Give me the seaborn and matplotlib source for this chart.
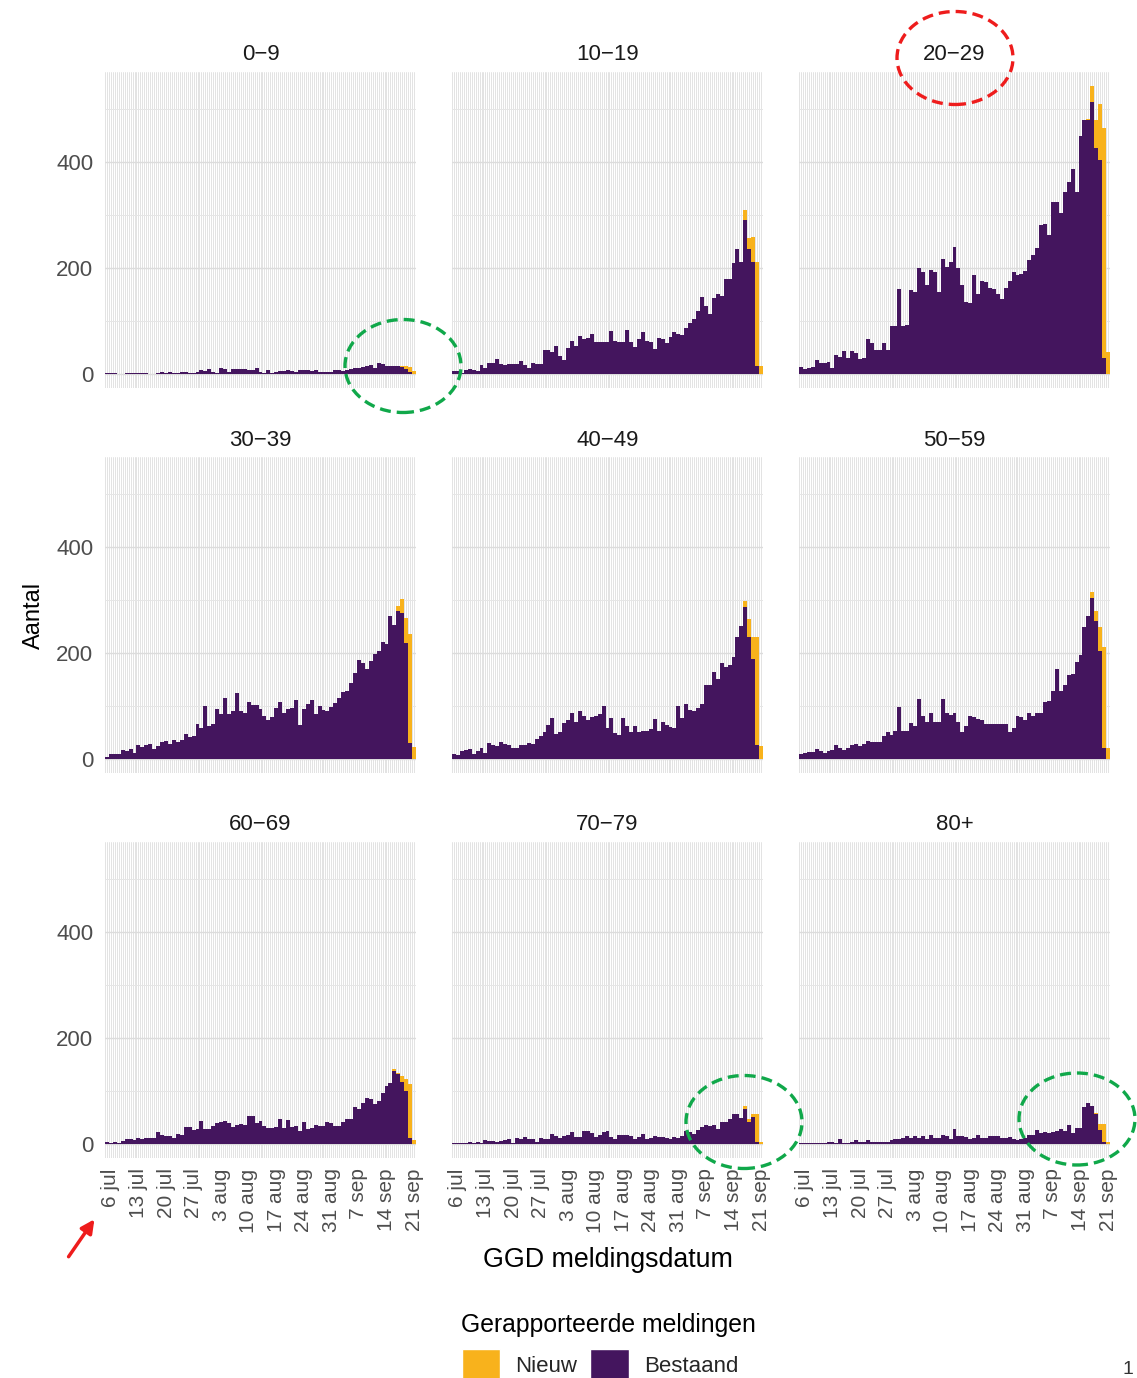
import matplotlib
matplotlib.use("Agg")
import numpy as np
import pandas as pd
import matplotlib.pyplot as plt
import matplotlib.dates as mdates
from matplotlib.patches import Ellipse, FancyArrowPatch, Patch
from matplotlib.ticker import FixedLocator, MultipleLocator
import seaborn as sns

# ---------------------------------------------------------------- data
dates = pd.date_range("2020-07-05", "2020-09-21", freq="D")
nieuw_dates = dates[-6:]

age_groups = ["0−9", "10−19", "20−29", "30−39", "40−49",
              "50−59", "60−69", "70−79", "80+"]

bestaand_0_9 = [2, 2, 2, 0, 0, 2, 2, 2, 2, 1,
                1, 0, 0, 2, 3, 2, 4, 2, 2, 3,
                3, 2, 2, 3, 6, 5, 8, 4, 2, 10,
                8, 3, 9, 9, 8, 9, 7, 7, 11, 4,
                2, 6, 2, 4, 5, 5, 6, 5, 4, 6,
                7, 6, 5, 6, 3, 3, 4, 4, 6, 6,
                5, 7, 9, 10, 11, 13, 14, 17, 11, 20,
                18, 15, 15, 14, 14, 12, 9, 3, 0]
nieuw_0_9 = [0, 0, 3, 6, 9, 5]

bestaand_10_19 = [5, 5, 2, 7, 9, 6, 5, 16, 11, 20,
                  20, 27, 19, 16, 18, 18, 18, 24, 16, 11,
                  21, 19, 19, 44, 44, 41, 52, 33, 25, 49,
                  62, 53, 71, 66, 68, 75, 60, 60, 60, 60,
                  81, 61, 60, 60, 83, 60, 51, 66, 78, 62,
                  60, 46, 68, 65, 57, 70, 78, 75, 73, 87,
                  95, 104, 119, 144, 128, 112, 142, 150, 146, 179,
                  178, 208, 236, 210, 290, 235, 210, 15, 0]
nieuw_10_19 = [0, 18, 20, 48, 195, 15]

bestaand_20_29 = [13, 9, 11, 13, 26, 20, 20, 22, 11, 35,
                  31, 43, 30, 42, 39, 28, 30, 66, 57, 45,
                  45, 58, 45, 89, 89, 160, 89, 91, 157, 154,
                  199, 192, 167, 195, 192, 154, 217, 201, 210, 238,
                  199, 167, 135, 133, 186, 151, 174, 173, 162, 159,
                  150, 140, 162, 174, 192, 186, 188, 194, 214, 223,
                  237, 280, 283, 261, 324, 323, 303, 343, 362, 387,
                  343, 448, 478, 478, 513, 425, 404, 30, 0]
nieuw_20_29 = [3, 29, 53, 104, 434, 40]

bestaand_30_39 = [4, 8, 9, 9, 16, 14, 19, 11, 25, 22,
                  26, 28, 18, 24, 32, 33, 27, 36, 32, 36,
                  46, 40, 42, 66, 58, 99, 62, 65, 93, 85,
                  115, 84, 90, 123, 89, 87, 106, 101, 101, 93,
                  81, 73, 79, 96, 106, 87, 93, 96, 110, 63,
                  93, 104, 111, 84, 99, 91, 89, 98, 105, 115,
                  126, 128, 143, 162, 186, 181, 169, 184, 197, 203,
                  221, 217, 270, 252, 279, 275, 219, 30, 0]
nieuw_30_39 = [0, 9, 27, 47, 206, 22]

bestaand_40_49 = [9, 6, 15, 16, 18, 9, 15, 20, 10, 29,
                  26, 23, 31, 28, 26, 20, 20, 26, 25, 30,
                  28, 37, 42, 50, 64, 76, 47, 50, 67, 72,
                  86, 70, 89, 81, 73, 78, 81, 84, 100, 57,
                  76, 48, 45, 76, 62, 50, 62, 50, 53, 52,
                  55, 74, 53, 69, 64, 59, 57, 100, 76, 103,
                  91, 89, 95, 103, 138, 138, 164, 150, 180, 172,
                  177, 191, 230, 251, 286, 229, 188, 25, 0]
nieuw_40_49 = [0, 12, 35, 41, 204, 23]

bestaand_50_59 = [9, 11, 12, 13, 18, 15, 11, 15, 16, 25,
                  21, 16, 20, 26, 28, 23, 28, 33, 31, 32,
                  32, 42, 50, 45, 53, 97, 53, 53, 67, 62,
                  113, 81, 70, 87, 70, 70, 113, 87, 83, 87,
                  69, 50, 62, 81, 79, 74, 72, 65, 65, 65,
                  65, 65, 65, 51, 57, 81, 78, 72, 86, 81,
                  87, 87, 106, 108, 127, 169, 127, 138, 157, 160,
                  182, 196, 248, 270, 304, 260, 204, 21, 0]
nieuw_50_59 = [0, 10, 19, 44, 189, 21]

bestaand_60_69 = [4, 1, 3, 1, 5, 8, 9, 6, 11, 9,
                  11, 11, 11, 22, 17, 14, 14, 11, 18, 16,
                  31, 31, 25, 28, 42, 27, 27, 34, 38, 40,
                  42, 39, 31, 35, 37, 36, 53, 52, 38, 42,
                  34, 30, 30, 31, 47, 29, 44, 31, 33, 23,
                  41, 28, 30, 36, 33, 34, 41, 38, 34, 34,
                  41, 46, 47, 69, 65, 77, 87, 84, 74, 80,
                  96, 109, 115, 137, 131, 116, 99, 10, 0]
nieuw_60_69 = [4, 3, 12, 23, 103, 6]

bestaand_70_79 = [1, 1, 1, 1, 4, 1, 4, 1, 6, 5,
                  5, 4, 5, 6, 9, 1, 11, 8, 13, 8,
                  8, 4, 11, 8, 9, 19, 14, 11, 15, 17,
                  22, 13, 13, 23, 23, 20, 13, 17, 22, 23,
                  12, 8, 16, 16, 17, 14, 9, 12, 18, 9,
                  11, 14, 13, 13, 11, 8, 13, 11, 15, 23,
                  22, 18, 25, 31, 36, 33, 36, 27, 41, 41,
                  47, 56, 55, 49, 65, 41, 51, 4, 0]
nieuw_70_79 = [0, 6, 5, 4, 51, 4]

bestaand_80 = [1, 1, 1, 2, 2, 2, 1, 3, 4, 1,
               8, 1, 1, 3, 6, 4, 4, 6, 3, 3,
               3, 3, 3, 6, 8, 9, 11, 14, 11, 14,
               11, 14, 8, 17, 11, 11, 17, 15, 8, 28,
               15, 14, 13, 8, 11, 16, 11, 11, 14, 15,
               14, 11, 11, 13, 8, 6, 8, 10, 17, 17,
               25, 20, 22, 20, 22, 23, 28, 23, 36, 20,
               30, 30, 69, 76, 71, 56, 25, 4, 0]
nieuw_80 = [0, 0, 2, 12, 33, 3]

bestaand_series = [bestaand_0_9, bestaand_10_19, bestaand_20_29,
                   bestaand_30_39, bestaand_40_49, bestaand_50_59,
                   bestaand_60_69, bestaand_70_79, bestaand_80]
nieuw_series = [nieuw_0_9, nieuw_10_19, nieuw_20_29,
                nieuw_30_39, nieuw_40_49, nieuw_50_59,
                nieuw_60_69, nieuw_70_79, nieuw_80]

tick_dates = pd.to_datetime(["2020-07-06", "2020-07-13", "2020-07-20",
                             "2020-07-27", "2020-08-03", "2020-08-10",
                             "2020-08-17", "2020-08-24", "2020-08-31",
                             "2020-09-07", "2020-09-14", "2020-09-21"])
tick_labels = ["6 jul", "13 jul", "20 jul", "27 jul", "3 aug", "10 aug",
               "17 aug", "24 aug", "31 aug", "7 sep", "14 sep", "21 sep"]
y_ticks = [0, 200, 400]
y_minor = [100, 300, 500]

PURPLE = "#44155E"
ORANGE = "#F8B21C"
palette = {"Nieuw": ORANGE, "Bestaand": PURPLE}

# long table: one row per age group / day / kind of report
frames = []
for grp, best, nieuw in zip(age_groups, bestaand_series, nieuw_series):
    frames.append(pd.DataFrame({"groep": grp, "dag": mdates.date2num(dates),
                                "aantal": best, "soort": "Bestaand"}))
    frames.append(pd.DataFrame({"groep": grp, "dag": mdates.date2num(nieuw_dates),
                                "aantal": nieuw, "soort": "Nieuw"}))
df = pd.concat(frames, ignore_index=True)
totals = df.groupby(["groep", "dag"])["aantal"].sum()
y_top = totals.max()

# ---------------------------------------------------------------- style
sns.set_theme(style="white")
plt.rcParams["font.family"] = ["Liberation Sans", "DejaVu Sans"]

W, H = 1137, 1378
fig = plt.figure(figsize=(W / 100, H / 100), dpi=100)

col_left = [105, 452, 799]
row_top = [72, 457, 842]
pw, ph = 311, 316

x0 = mdates.date2num(dates[0]) - 0.5
x1 = mdates.date2num(dates[-1]) + 0.5

for k, grp in enumerate(age_groups):
    r, c = divmod(k, 3)
    ax = fig.add_axes([col_left[c] / W, 1 - (row_top[r] + ph) / H, pw / W, ph / H])
    sub = df[df["groep"] == grp]
    sns.histplot(data=sub, x="dag", weights="aantal", hue="soort",
                 hue_order=["Nieuw", "Bestaand"], palette=palette,
                 multiple="stack", discrete=True, element="step",
                 fill=True, alpha=1, linewidth=0, legend=False, ax=ax)

    ax.set_xlim(x0, x1)
    ax.set_ylim(-0.05 * y_top, 1.05 * y_top)
    ax.set_axisbelow(True)

    ax.xaxis.set_major_locator(FixedLocator(mdates.date2num(tick_dates)))
    ax.xaxis.set_minor_locator(MultipleLocator(0.5))
    ax.set_xticklabels(tick_labels)
    ax.yaxis.set_major_locator(FixedLocator(y_ticks))
    ax.yaxis.set_minor_locator(FixedLocator(y_minor))

    ax.grid(which="both", axis="x", color="#dedede", linewidth=0.6)
    ax.grid(which="major", axis="y", color="#dcdcdc", linewidth=1.0)
    ax.grid(which="minor", axis="y", color="#e6e6e6", linewidth=0.7)

    ax.tick_params(which="both", length=0)
    ax.tick_params(axis="y", labelsize=16, labelcolor="#4d4d4d", pad=8.5,
                   labelleft=(c == 0))
    ax.tick_params(axis="x", labelsize=15, labelcolor="#4d4d4d", pad=7.5,
                   labelbottom=(r == 2), labelrotation=90)
    for lab in ax.get_xticklabels():
        lab.set_va("top")
        lab.set_ha("center")

    ax.set_xlabel("")
    ax.set_ylabel("")
    for s in ax.spines.values():
        s.set_visible(False)

    ax.text(0.5, 1 + 17 / ph, grp, transform=ax.transAxes, ha="center",
            va="center", fontsize=16, color="#1a1a1a")

# axis titles
fig.text(608 / W, 1 - 1260 / H, "GGD meldingsdatum", ha="center", va="center",
         fontsize=19.3, color="black")
fig.text(34 / W, 1 - 615 / H, "Aantal", ha="center", va="center",
         rotation=90, fontsize=17, color="black")

# legend: title placed on its own, keys in one row below it
fig.text(608 / W, 1 - 1325 / H, "Gerapporteerde meldingen", ha="center",
         va="center", fontsize=17.8, color="black")
handles = [Patch(facecolor=ORANGE, label="Nieuw"),
           Patch(facecolor=PURPLE, label="Bestaand")]
fig.legend(handles=handles, loc="upper center", ncol=2,
           bbox_to_anchor=(600 / W, 1 - 1349 / H), frameon=False,
           fontsize=16, handlelength=1.72, handleheight=1.75,
           handletextpad=0.68, columnspacing=0.6,
           borderpad=0, borderaxespad=0)

# page number at the corner
fig.text(1122 / W, 1 - 1370 / H, "1", ha="left", va="center", fontsize=14,
         color="#333333")

# highlight rings and pointer
def ring(cx, cy, w, h, color):
    fig.add_artist(Ellipse((cx / W, 1 - cy / H), w / W, h / H,
                           transform=fig.transFigure, fill=False,
                           edgecolor=color, linewidth=2.4,
                           linestyle=(0, (3.3, 1.8))))

ring(955, 58, 116, 93, "#ee1c1c")
ring(403, 366, 116, 93, "#10a84a")
ring(744, 1122, 116, 93, "#10a84a")
ring(1077, 1119, 116, 92, "#10a84a")

fig.add_artist(FancyArrowPatch((67 / W, 1 - 1259 / H), (96 / W, 1 - 1217 / H),
                               transform=fig.transFigure, arrowstyle="-|>",
                               mutation_scale=20, color="#ee1c1c",
                               linewidth=2.5))

fig.savefig("out.png", dpi=100)
